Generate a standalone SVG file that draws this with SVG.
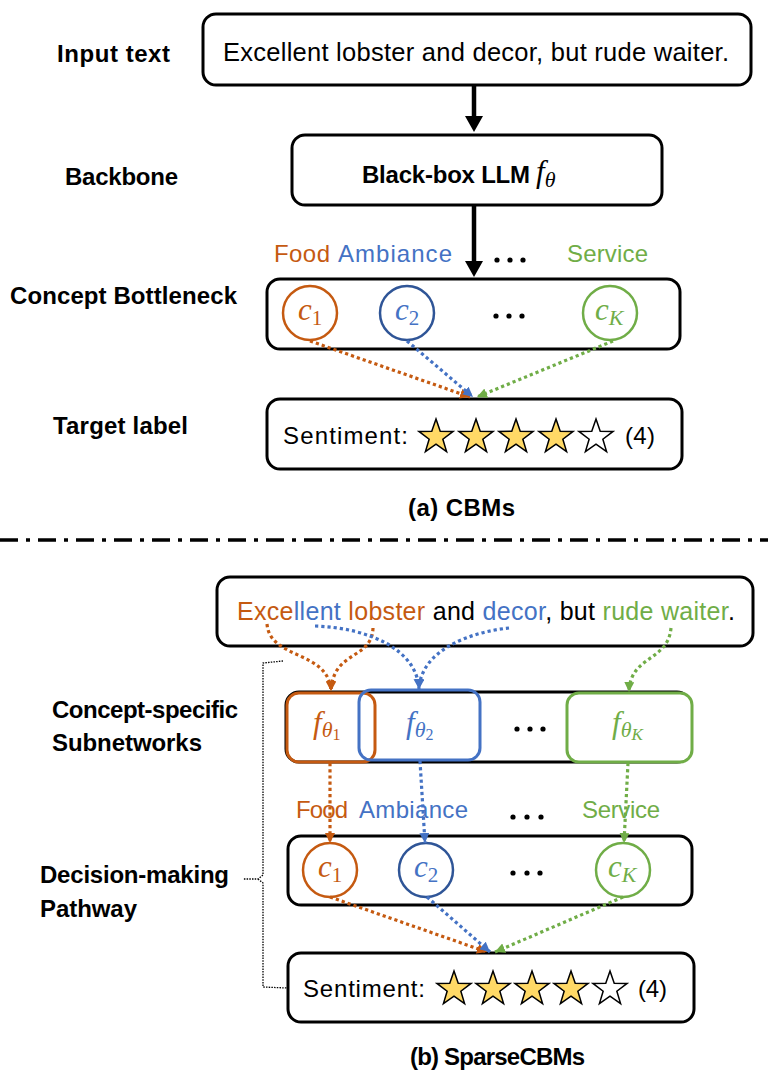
<svg xmlns="http://www.w3.org/2000/svg" xmlns:xlink="http://www.w3.org/1999/xlink" width="768" height="1080" viewBox="0 0 768 1080">
<style>
.box{fill:#fff;stroke:#000;stroke-width:3}
.lbl{font-family:"Liberation Sans",Arial,sans-serif;font-weight:bold;font-size:24px;fill:#000}
.txt{font-family:"Liberation Sans",Arial,sans-serif;font-size:24px;fill:#000}
.m{font-family:"Liberation Serif","Times New Roman",serif;font-style:italic;font-size:31px}
.sub{font-family:"Liberation Serif","Times New Roman",serif;font-style:normal;font-size:21px}
.subi{font-family:"Liberation Serif","Times New Roman",serif;font-style:italic;font-size:22px}
.or{fill:#C55A11}.bl{fill:#4472C4}.gr{fill:#70AD47}.bk{fill:#000}
.dot{stroke-width:3.2;stroke-dasharray:3.2 3;fill:none}
.so{stroke:#C55A11}.sb{stroke:#4472C4}.sg{stroke:#70AD47}
.star{stroke:#000;stroke-width:1.5;fill:#FFD966;stroke-linejoin:miter}
.star.e{fill:#fff}
.dd{fill:#000}
</style>
<defs>
<path id="star" d="M0,-18 L4.23,-5.82 L17.12,-5.56 L6.85,2.22 L10.58,14.56 L0,7.2 L-10.58,14.56 L-6.85,2.22 L-17.12,-5.56 L-4.23,-5.82 Z"/>
<marker id="ao" markerUnits="userSpaceOnUse" markerWidth="11" markerHeight="10" refX="10" refY="5" orient="auto"><path d="M0,0 L10,5 L0,10 Z" fill="#C55A11"/></marker>
<marker id="ab" markerUnits="userSpaceOnUse" markerWidth="11" markerHeight="10" refX="10" refY="5" orient="auto"><path d="M0,0 L10,5 L0,10 Z" fill="#4472C4"/></marker>
<marker id="ag" markerUnits="userSpaceOnUse" markerWidth="11" markerHeight="10" refX="10" refY="5" orient="auto"><path d="M0,0 L10,5 L0,10 Z" fill="#70AD47"/></marker>
</defs>

<!-- side labels -->
<g id="labels">
<text class="lbl" x="57" y="62" textLength="113">Input text</text>
<text class="lbl" x="65" y="185" textLength="113">Backbone</text>
<text class="lbl" x="10" y="304" textLength="227">Concept Bottleneck</text>
<text class="lbl" x="53" y="434" textLength="135">Target label</text>
<text class="lbl" x="408" y="516" textLength="107">(a) CBMs</text>
<text class="lbl" x="52" y="718" textLength="186">Concept-specific</text>
<text class="lbl" x="52" y="751" textLength="150">Subnetworks</text>
<text class="lbl" x="40" y="883" textLength="189">Decision-making</text>
<text class="lbl" x="40" y="917" textLength="97">Pathway</text>
<text class="lbl" x="410" y="1065" textLength="175">(b) SparseCBMs</text>
</g>

<!-- (a) CBMs -->
<g id="input-a">
<rect class="box" x="203" y="14" width="548" height="71" rx="13"/>
<text class="txt" x="223" y="61" textLength="506" style="font-size:25.5px">Excellent lobster and decor, but rude waiter.</text>
</g>
<g id="backbone">
<rect class="box" x="292" y="135" width="370" height="70" rx="13"/>
<text class="lbl" x="362" y="183" textLength="168">Black-box LLM</text>
<text class="m" x="536" y="182">f<tspan class="subi" dy="5">θ</tspan></text>
</g>
<g id="concept-labels-a">
<text class="txt or" x="274" y="262" textLength="56">Food</text>
<text class="txt bl" x="338" y="262" textLength="114">Ambiance</text>
<circle class="dd" cx="497" cy="260" r="2.6"/><circle class="dd" cx="510" cy="260" r="2.6"/><circle class="dd" cx="523" cy="260" r="2.6"/>
<text class="txt gr" x="567" y="262" textLength="81">Service</text>
</g>
<g id="bottleneck-a">
<rect class="box" x="267" y="279" width="413" height="70" rx="13"/>
<circle cx="310" cy="313" r="27" fill="#fff" stroke="#C55A11" stroke-width="2.5"/>
<text class="m or" x="298" y="320">c<tspan class="sub" dy="5">1</tspan></text>
<circle cx="407" cy="313" r="27" fill="#fff" stroke="#2F5597" stroke-width="2.5"/>
<text class="m bl" x="395" y="320">c<tspan class="sub" dy="5">2</tspan></text>
<circle class="dd" cx="496" cy="316" r="2.6"/><circle class="dd" cx="509" cy="316" r="2.6"/><circle class="dd" cx="522" cy="316" r="2.6"/>
<circle cx="610" cy="313" r="27" fill="#fff" stroke="#70AD47" stroke-width="2.5"/>
<text class="m gr" x="595" y="320">c<tspan class="subi" dy="5">K</tspan></text>
</g>
<g id="target-a">
<rect class="box" x="267" y="399" width="415" height="70" rx="13"/>
<text class="txt" x="283" y="444" textLength="125">Sentiment:</text>
<use href="#star" class="star" x="436" y="437"/>
<use href="#star" class="star" x="476" y="437"/>
<use href="#star" class="star" x="516" y="437"/>
<use href="#star" class="star" x="556" y="437"/>
<use href="#star" class="star e" x="596" y="437"/>
<text class="txt" x="625" y="444" textLength="30">(4)</text>
</g>

<!-- separator -->
<line x1="0" y1="540" x2="768" y2="540" stroke="#000" stroke-width="3.5" stroke-dasharray="18 8 4 8"/>

<!-- (b) SparseCBMs -->
<g id="input-b">
<rect class="box" x="217" y="577" width="536" height="69" rx="13"/>
<text class="txt" x="237" y="620" textLength="498" style="font-size:25px"><tspan class="or">Exce</tspan><tspan class="bl">llent</tspan><tspan class="or"> lobster</tspan> and <tspan class="bl">decor</tspan>, but <tspan class="gr">rude waiter</tspan>.</text>
</g>
<g id="subnetworks">
<rect class="box" x="286" y="692" width="404" height="70" rx="13"/>
<rect x="287" y="693" width="88" height="69" rx="12" fill="none" stroke="#C55A11" stroke-width="3"/>
<rect x="359" y="690" width="121" height="70" rx="12" fill="none" stroke="#4472C4" stroke-width="3"/>
<rect x="567" y="693" width="125" height="69" rx="12" fill="#fff" stroke="#70AD47" stroke-width="3"/>
<text class="m or" x="313" y="733">f<tspan class="subi" dy="4">θ</tspan><tspan class="sub" style="font-size:16px" dy="3">1</tspan></text>
<text class="m bl" x="406" y="733">f<tspan class="subi" dy="4">θ</tspan><tspan class="sub" style="font-size:16px" dy="3">2</tspan></text>
<circle class="dd" cx="517" cy="729" r="2.6"/><circle class="dd" cx="530" cy="729" r="2.6"/><circle class="dd" cx="543" cy="729" r="2.6"/>
<text class="m gr" x="612" y="733">f<tspan class="subi" dy="4">θ</tspan><tspan class="subi" style="font-size:17px" dy="3">K</tspan></text>
</g>
<g id="concept-labels-b">
<text class="txt or" x="296" y="818" textLength="52">Food</text>
<text class="txt bl" x="359" y="818" textLength="109">Ambiance</text>
<circle class="dd" cx="513" cy="817" r="2.6"/><circle class="dd" cx="527" cy="817" r="2.6"/><circle class="dd" cx="541" cy="817" r="2.6"/>
<text class="txt gr" x="582" y="818" textLength="78">Service</text>
</g>
<g id="bottleneck-b">
<rect class="box" x="288" y="836" width="404" height="69" rx="13"/>
<circle cx="330" cy="870" r="27" fill="#fff" stroke="#C55A11" stroke-width="2.5"/>
<text class="m or" x="318" y="877">c<tspan class="sub" dy="5">1</tspan></text>
<circle cx="426" cy="870" r="27" fill="#fff" stroke="#2F5597" stroke-width="2.5"/>
<text class="m bl" x="414" y="877">c<tspan class="sub" dy="5">2</tspan></text>
<circle class="dd" cx="513" cy="873" r="2.6"/><circle class="dd" cx="527" cy="873" r="2.6"/><circle class="dd" cx="540" cy="873" r="2.6"/>
<circle cx="623" cy="870" r="27" fill="#fff" stroke="#70AD47" stroke-width="2.5"/>
<text class="m gr" x="608" y="877">c<tspan class="subi" dy="5">K</tspan></text>
</g>
<g id="target-b">
<rect class="box" x="288" y="953" width="406" height="69" rx="13"/>
<text class="txt" x="303" y="997" textLength="122">Sentiment:</text>
<use href="#star" class="star" x="454" y="989"/>
<use href="#star" class="star" x="493" y="989"/>
<use href="#star" class="star" x="532" y="989"/>
<use href="#star" class="star" x="571" y="989"/>
<use href="#star" class="star e" x="610" y="989"/>
<text class="txt" x="638" y="997" textLength="29">(4)</text>
</g>

<!-- connectors -->
<g id="connectors">
<line x1="474" y1="85" x2="474" y2="118" stroke="#000" stroke-width="4.5"/>
<polygon points="465,116 483,116 474,132" fill="#000"/>
<line x1="474" y1="205" x2="474" y2="263" stroke="#000" stroke-width="4.5"/>
<polygon points="465,261 483,261 474,277" fill="#000"/>

<path class="dot so" d="M310,341 L470,397" marker-end="url(#ao)"/>
<path class="dot sb" d="M407,341 L473,397" marker-end="url(#ab)"/>
<path class="dot sg" d="M613,341 L477,397" marker-end="url(#ag)"/>

<path class="dot so" d="M267,624 C270,660 329,650 331,691" marker-end="url(#ao)"/>
<path class="dot so" d="M373,628 C372,660 333,650 331,691" marker-end="url(#ao)"/>
<path class="dot sb" d="M315,626 C370,628 417,650 419,689" marker-end="url(#ab)"/>
<path class="dot sb" d="M509,628 C470,632 421,650 419,689" marker-end="url(#ab)"/>
<path class="dot sg" d="M671,628 C668,662 630,655 629,692" marker-end="url(#ag)"/>

<path class="dot so" d="M330,763 L330,843" marker-end="url(#ao)"/>
<path class="dot sb" d="M420,761 L425,843" marker-end="url(#ab)"/>
<path class="dot sg" d="M628,763 L624,843" marker-end="url(#ag)"/>

<path class="dot so" d="M330,897 L487,952" marker-end="url(#ao)"/>
<path class="dot sb" d="M427,897 L490,952" marker-end="url(#ab)"/>
<path class="dot sg" d="M623,897 L495,952" marker-end="url(#ag)"/>

<path d="M283,661 L263,663 V875 L258,879 H243 M258,879 L263,883 V987 L287,988" fill="none" stroke="#000" stroke-width="1.3" stroke-dasharray="1.5 1.2"/>
</g>
</svg>
